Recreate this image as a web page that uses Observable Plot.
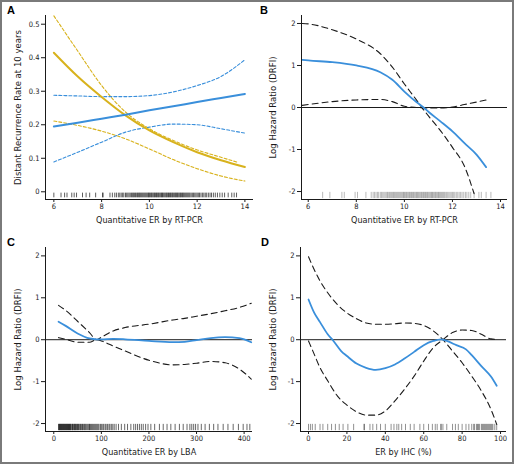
<!DOCTYPE html>
<html><head><meta charset="utf-8">
<script src="https://cdn.jsdelivr.net/npm/d3@7"></script>
<script src="https://cdn.jsdelivr.net/npm/@observablehq/plot@0.6"></script>
<style>
body{margin:0;background:#fff;}
#wrap{position:relative;width:514px;height:465px;overflow:hidden;}
#frame{position:absolute;left:0;top:0;width:514px;height:464px;box-sizing:border-box;border:2px solid #7a7a7a;}
.panel{position:absolute;}
.tag{position:absolute;font:bold 11px "Liberation Sans",Arial,sans-serif;line-height:11px;color:#000;}
</style></head><body>
<div id="wrap"><div id="frame"></div></div>
<script>
// ---------- Panel A : Distant recurrence rate vs RT-PCR ER ----------
const aX = [6, 7, 8, 9, 10, 11, 12, 13, 14];
const aYellow    = [0.415, 0.344, 0.283, 0.228, 0.183, 0.148, 0.118, 0.094, 0.074];
const aYellowUpX = [6, 7, 8, 9, 10, 11, 12, 13, 13.7];
const aYellowUp  = [0.525, 0.42, 0.317, 0.238, 0.188, 0.153, 0.125, 0.103, 0.088];
const aYellowLo  = [0.211, 0.198, 0.181, 0.158, 0.128, 0.096, 0.069, 0.047, 0.032];
const aBlue      = [0.195, 0.206, 0.218, 0.23, 0.243, 0.255, 0.268, 0.28, 0.292];
const aBlueUp    = [0.288, 0.286, 0.284, 0.284, 0.287, 0.298, 0.317, 0.344, 0.394];
const aBlueLo    = [0.089, 0.118, 0.148, 0.178, 0.193, 0.202, 0.2, 0.188, 0.175];
const rugA = [6.0, 6.3, 6.45, 6.55, 6.75, 6.85, 6.95, 7.2, 7.35, 7.5, 7.75, 8.05, 8.05, 8.35, 8.45, 8.55, 8.62, 8.7, 8.76, 8.82, 8.88, 8.93, 9.0, 9.05, 9.1, 9.15, 9.2, 9.25, 9.3, 9.33, 9.38, 9.42, 9.47, 9.5, 9.55, 9.58, 9.62, 9.66, 9.7, 9.74, 9.78, 9.82, 9.86, 9.9, 9.94, 9.97, 10.0, 10.04, 10.08, 10.11, 10.15, 10.19, 10.22, 10.26, 10.3, 10.33, 10.37, 10.4, 10.44, 10.48, 10.51, 10.55, 10.58, 10.62, 10.66, 10.7, 10.73, 10.77, 10.8, 10.84, 10.88, 10.91, 10.95, 10.98, 11.02, 11.06, 11.1, 11.13, 11.17, 11.2, 11.24, 11.28, 11.31, 11.35, 11.39, 11.42, 11.46, 11.5, 11.54, 11.58, 11.62, 11.66, 11.7, 11.75, 11.8, 11.85, 11.9, 11.95, 12.0, 12.05, 12.1, 12.16, 12.22, 12.28, 12.34, 12.4, 12.47, 12.54, 12.6, 12.68, 12.76, 12.85, 12.95, 13.05, 13.15, 13.3, 13.45, 13.55, 13.65];
const aXTicks = [6, 8, 10, 12, 14];
const aYTicks = [0, 0.1, 0.2, 0.3, 0.4, 0.5];

// ---------- Panel B : log hazard ratio vs RT-PCR ER ----------
const bX     = [5.75, 6, 7, 8, 9, 9.5, 10, 10.5, 10.8, 11, 11.5, 12, 12.5, 13, 13.4];
const bBlue  = [1.135, 1.12, 1.08, 1.0, 0.84, 0.66, 0.38, 0.13, 0.0, -0.1, -0.33, -0.57, -0.85, -1.12, -1.42];
const bUpX   = [5.75, 6, 7, 8, 9, 9.5, 10, 10.5, 10.7, 11, 11.5, 12, 12.5, 12.9];
const bUp    = [2.0, 1.99, 1.85, 1.63, 1.28, 0.96, 0.56, 0.18, 0.02, -0.2, -0.55, -0.95, -1.4, -2.05];
const bLoX   = [5.75, 6, 7, 8, 9, 9.5, 10, 10.5, 11, 11.5, 12, 12.5, 13, 13.5];
const bLo    = [0.05, 0.07, 0.14, 0.18, 0.19, 0.14, 0.03, 0.0, -0.01, -0.01, 0.01, 0.07, 0.13, 0.19];
const rugB = [6.6, 6.9, 7.4, 7.5, 7.95, 8.05, 8.4, 8.62, 8.7, 8.76, 8.82, 8.88, 8.93, 9.0, 9.05, 9.1, 9.15, 9.2, 9.25, 9.3, 9.33, 9.38, 9.42, 9.47, 9.5, 9.55, 9.58, 9.62, 9.66, 9.7, 9.74, 9.78, 9.82, 9.86, 9.9, 9.94, 9.97, 10.0, 10.04, 10.08, 10.11, 10.15, 10.19, 10.22, 10.26, 10.3, 10.33, 10.37, 10.4, 10.44, 10.48, 10.51, 10.55, 10.58, 10.62, 10.66, 10.7, 10.73, 10.77, 10.8, 10.84, 10.88, 10.91, 10.95, 10.98, 11.02, 11.06, 11.1, 11.13, 11.17, 11.2, 11.24, 11.28, 11.31, 11.35, 11.39, 11.42, 11.46, 11.5, 11.54, 11.58, 11.62, 11.66, 11.7, 11.75, 11.8, 11.85, 11.9, 11.95, 12.0, 12.05, 12.1, 12.16, 12.22, 12.28, 12.34, 12.4, 12.47, 12.54, 12.6, 12.68, 12.76, 12.9, 13.1, 13.2, 13.4, 13.6];
const bXTicks = [6, 8, 10, 12, 14];
const hrTicks = [-2, -1, 0, 1, 2];

// ---------- Panel C : log hazard ratio vs LBA ER ----------
const cX    = [10, 25, 50, 75, 90, 100, 125, 150, 200, 250, 275, 300, 330, 360, 390, 415];
const cBlue = [0.43, 0.33, 0.15, 0.03, 0.01, 0.01, 0.02, 0.01, -0.03, -0.06, -0.05, -0.01, 0.04, 0.06, 0.04, -0.06];
const cUp   = [0.82, 0.70, 0.44, 0.17, 0.0, 0.06, 0.21, 0.29, 0.37, 0.47, 0.51, 0.56, 0.62, 0.69, 0.77, 0.87];
const cLo   = [0.05, 0.01, -0.06, -0.06, 0.0, -0.03, -0.15, -0.27, -0.49, -0.6, -0.59, -0.56, -0.52, -0.55, -0.7, -0.94];
const rugC = [10, 11, 12, 13, 14, 15, 16, 17, 18, 19, 20, 21, 22, 23, 24, 25, 26, 27, 28, 29, 30, 31, 32, 33, 34, 35, 36, 38, 39, 40, 41, 43, 44, 45, 46, 48, 49, 50, 52, 53, 55, 56, 58, 60, 61, 63, 65, 66, 68, 70, 72, 74, 75, 77, 79, 81, 83, 85, 87, 89, 91, 93, 95, 98, 100, 103, 105, 108, 110, 113, 116, 118, 121, 124, 127, 131, 136, 142, 149, 155, 162, 168, 172, 176, 180, 184, 188, 193, 198, 204, 212, 222, 230, 238, 246, 255, 264, 272, 280, 286, 290, 294, 298, 303, 310, 318, 327, 336, 345, 356, 366, 377, 388, 398, 406, 412];
const cXTicks = [0, 100, 200, 300, 400];

// ---------- Panel D : log hazard ratio vs IHC ER ----------
const dX    = [0, 3, 6, 10, 13, 17, 20, 25, 30, 35, 40, 45, 50, 55, 60, 65, 69, 72, 77, 82, 85, 90, 95, 98];
const dBlue = [0.96, 0.64, 0.42, 0.13, -0.03, -0.27, -0.39, -0.57, -0.67, -0.72, -0.68, -0.59, -0.45, -0.29, -0.13, -0.03, 0.01, -0.03, -0.13, -0.23, -0.37, -0.63, -0.88, -1.1];
const dBX   = [0, 3, 6, 10, 15, 20, 25, 30, 35, 40, 45, 50, 55, 60, 65, 70, 75, 80, 85, 90, 95, 98];
const dUp   = [1.98, 1.67, 1.40, 1.12, 0.84, 0.64, 0.5, 0.40, 0.37, 0.37, 0.38, 0.40, 0.39, 0.34, 0.21, 0.0, -0.27, -0.55, -0.87, -1.22, -1.66, -2.02];
const dLo   = [-0.03, -0.35, -0.67, -0.98, -1.34, -1.56, -1.72, -1.8, -1.8, -1.7, -1.46, -1.18, -0.87, -0.51, -0.19, 0.0, 0.17, 0.23, 0.22, 0.13, 0.02, 0.01];
const rugD = [0, 1, 2, 3.5, 6, 7.5, 10, 12, 14, 16, 18, 20.5, 23.5, 29, 29, 32, 33.5, 35.5, 37.5, 40, 43, 44.5, 46, 47, 48.5, 50.5, 53, 55, 58, 60, 62.5, 64.5, 66, 67, 69, 69, 70, 72, 75, 76.5, 78, 80, 82, 83.5, 85, 86, 86.5, 87.5, 88, 88.5, 89, 90, 90.5, 91, 91.5, 92, 92.5, 93, 93.5, 94, 94.5, 95, 95.5, 96, 97, 98];
const dXTicks = [0, 20, 40, 60, 80, 100];

const BLUE = "#3a8fdb", GOLD = "#d8b21c", INK = "#1a1a1a";
const FONT = '"Liberation Sans Narrow","DejaVu Sans Condensed","Liberation Sans",sans-serif';
const pts = (xs, ys) => xs.map((x, i) => ({x, y: ys[i]}));

function panel(o) {
  const marks = [];
  if (o.zero) marks.push(Plot.ruleY([0], {stroke: INK, strokeWidth: 1}));
  marks.push(Plot.ruleX(o.rug, {x: d => d, y1: o.rugY[0], y2: o.rugY[1], stroke: "#000", strokeOpacity: o.rugOpacity, strokeWidth: 0.8}));
  for (const l of o.lines) {
    marks.push(Plot.line(l.data, {x: "x", y: "y", stroke: l.stroke, strokeWidth: l.width, strokeDasharray: l.dash, curve: "monotone-x"}));
  }
  marks.push(
    Plot.axisX({ticks: o.xTicks, tickSize: 3, tickPadding: 1, tickFormat: d => String(d), label: null, fontSize: 7.5, stroke: INK}),
    Plot.axisY({ticks: o.yTicks, tickSize: 4, tickPadding: 2, tickFormat: d => String(d), label: null, fontSize: 7.5, stroke: INK}),
    Plot.ruleX([o.xDomain[0]], {stroke: INK, strokeWidth: 1}),
    Plot.ruleY([o.yDomain[0]], {stroke: INK, strokeWidth: 1}),
    Plot.text([o.xLabel], {text: d => d, frameAnchor: "bottom", textAnchor: "middle", dy: 21, fontSize: 9, lineAnchor: "middle", fill: INK}),
    Plot.text([o.yLabel], {text: d => d, frameAnchor: "left", textAnchor: "middle", dx: o.yLabelDx, rotate: -90, fontSize: 9.5, lineAnchor: "middle", fill: INK})
  );
  const svg = Plot.plot({
    width: 257, height: o.height,
    marginLeft: o.mL, marginRight: o.mR, marginTop: 15, marginBottom: o.mB,
    x: {domain: o.xDomain},
    y: {domain: o.yDomain},
    style: {fontFamily: FONT, fontSize: "8px", color: INK, background: "transparent", overflow: "visible"},
    marks
  });
  const div = document.createElement("div");
  div.className = "panel";
  div.style.left = o.left + "px";
  div.style.top = o.top + "px";
  div.appendChild(svg);
  const tag = document.createElement("div");
  tag.className = "tag";
  tag.textContent = o.tag;
  tag.style.left = (o.left + o.tagX) + "px";
  tag.style.top = (o.top + 5) + "px";
  const wrap = document.getElementById("wrap");
  wrap.appendChild(div);
  wrap.appendChild(tag);
}

panel({
  tag: "A", tagX: 7, left: 0, top: 0, height: 232, mL: 45, mR: 4, mB: 33,
  xDomain: [5.65, 14.36], yDomain: [-0.023, 0.526], xTicks: aXTicks, yTicks: aYTicks,
  xLabel: "Quantitative ER by RT-PCR", yLabel: "Distant Recurrence Rate at 10 years", yLabelDx: -28,
  rug: rugA, rugY: [-0.004, -0.018], rugOpacity: 0.8, zero: false,
  lines: [
    {data: pts(aYellowUpX, aYellowUp), stroke: GOLD, width: 1.1, dash: "3,2"},
    {data: pts(aX, aYellowLo), stroke: GOLD, width: 1.1, dash: "3,2"},
    {data: pts(aX, aBlueUp), stroke: BLUE, width: 1.1, dash: "3,2"},
    {data: pts(aX, aBlueLo), stroke: BLUE, width: 1.1, dash: "3,2"},
    {data: pts(aX, aYellow), stroke: GOLD, width: 2},
    {data: pts(aX, aBlue), stroke: BLUE, width: 2}
  ]
});

panel({
  tag: "B", tagX: 3, left: 257, top: 0, height: 232, mL: 44, mR: 7, mB: 33,
  xDomain: [5.72, 14.29], yDomain: [-2.19, 2.19], xTicks: bXTicks, yTicks: hrTicks,
  xLabel: "Quantitative ER by RT-PCR", yLabel: "Log Hazard Ratio (DRFI)", yLabelDx: -29,
  rug: rugB, rugY: [-2.02, -2.17], rugOpacity: 0.35, zero: true,
  lines: [
    {data: pts(bUpX, bUp), stroke: INK, width: 1.1, dash: "6,4"},
    {data: pts(bLoX, bLo), stroke: INK, width: 1.1, dash: "6,4"},
    {data: pts(bX, bBlue), stroke: BLUE, width: 1.8}
  ]
});

panel({
  tag: "C", tagX: 7, left: 0, top: 232, height: 233, mL: 45, mR: 5, mB: 34,
  xDomain: [-17.4, 417.6], yDomain: [-2.19, 2.2], xTicks: cXTicks, yTicks: hrTicks,
  xLabel: "Quantitative ER by LBA", yLabel: "Log Hazard Ratio (DRFI)", yLabelDx: -28,
  rug: rugC, rugY: [-2.02, -2.17], rugOpacity: 0.75, zero: true,
  lines: [
    {data: pts(cX, cUp), stroke: INK, width: 1.1, dash: "6,4"},
    {data: pts(cX, cLo), stroke: INK, width: 1.1, dash: "6,4"},
    {data: pts(cX, cBlue), stroke: BLUE, width: 1.8}
  ]
});

panel({
  tag: "D", tagX: 4, left: 257, top: 232, height: 233, mL: 43, mR: 8, mB: 34,
  xDomain: [-4.17, 103.1], yDomain: [-2.19, 2.2], xTicks: dXTicks, yTicks: hrTicks,
  xLabel: "ER by IHC (%)", yLabel: "Log Hazard Ratio (DRFI)", yLabelDx: -28,
  rug: rugD, rugY: [-2.02, -2.17], rugOpacity: 0.55, zero: true,
  lines: [
    {data: pts(dBX, dUp), stroke: INK, width: 1.1, dash: "6,4"},
    {data: pts(dBX, dLo), stroke: INK, width: 1.1, dash: "6,4"},
    {data: pts(dX, dBlue), stroke: BLUE, width: 1.8}
  ]
});
</script>
</body></html>
